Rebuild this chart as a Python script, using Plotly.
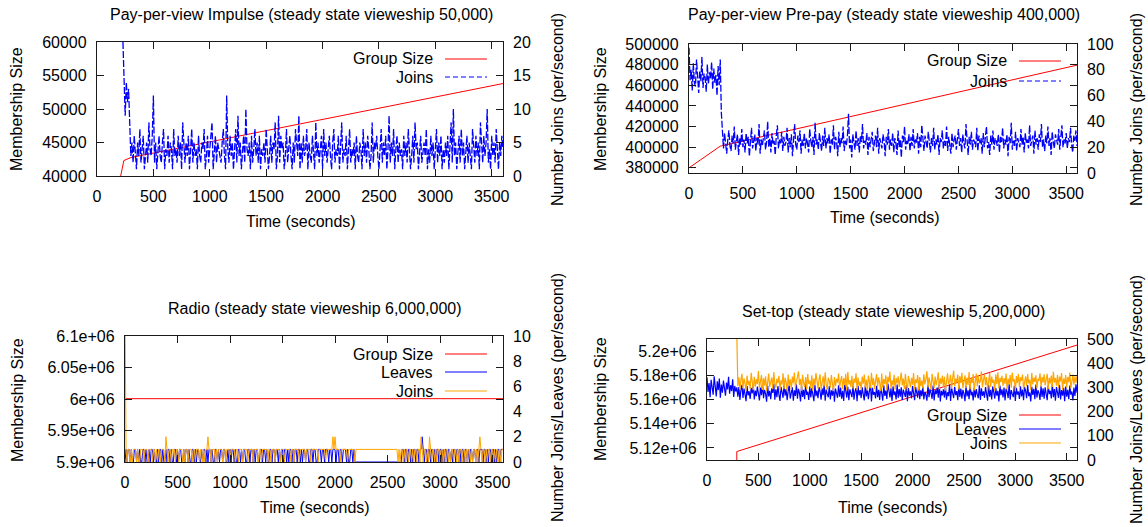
import plotly.graph_objects as go

W, H = 1148, 527
STEP = 10
FONT = "Liberation Sans, Arial, Helvetica, sans-serif"
FS = 16
RED, BLUE, ORANGE = "#ff0000", "#0000ff", "#ffa500"

# ---------------- data ----------------
x_ticks = [0, 500, 1000, 1500, 2000, 2500, 3000, 3500]

# Panel 1: Pay-per-view Impulse
imp_size_t = [0, 205, 238, 300, 3600]
imp_size = [0, 39600, 42300, 42750, 53800]
imp_joins_start = 230
imp_joins = [
    20, 13, 9, 14, 11, 13, 7,
    3, 5, 2, 6, 4, 1, 5, 3, 7, 2, 4, 6, 1, 3, 5, 2, 8, 4, 3, 6,
    12, 2, 5, 1, 4, 6, 3, 2, 5, 7, 1, 4, 3, 6, 2, 5, 4, 1, 7, 3,
    4, 2, 6, 3, 5, 1, 8, 4, 2, 5, 3, 6, 1, 4, 7, 2, 5, 3, 4, 1,
    6, 3, 2, 5, 4, 7, 1, 3, 6, 2, 4, 5, 8, 1, 3, 6, 2, 5, 4, 3,
    2, 5, 7, 3, 1, 12, 4, 2, 6, 3, 5, 1, 4, 7, 2, 9, 3, 5, 1, 4,
    6, 2, 10, 4, 3, 5, 1, 6, 2, 4, 7, 3, 5, 2, 6, 1, 4, 3, 5, 2,
    7, 4, 1, 3, 6, 2, 5, 4, 8, 1, 3, 9, 2, 6, 4, 5, 1, 3, 7, 2,
    4, 6, 3, 1, 5, 2, 7, 4, 3, 9, 1, 5, 2, 6, 3, 4, 7, 1, 5, 3,
    2, 6, 4, 1, 8, 3, 5, 2, 4, 6, 1, 7, 3, 5, 2, 4, 6, 3, 1, 5,
    7, 2, 4, 3, 6, 1, 5, 8, 2, 4, 3, 6, 1, 5, 7, 2, 4, 3, 5, 1,
    6, 3, 2, 5, 4, 1, 7, 3, 5, 2, 6, 4, 1, 3, 8, 2, 5, 4, 6, 3,
    1, 4, 7, 2, 5, 3, 6, 1, 4, 9, 2, 5, 3, 7, 1, 4, 6, 2, 5, 3,
    4, 1, 6, 3, 5, 2, 7, 4, 1, 3, 6, 2, 8, 4, 5, 1, 3, 6, 2, 4,
    5, 3, 7, 1, 4, 2, 6, 3, 5, 1, 4, 7, 2, 5, 3, 6, 1, 4, 2, 5,
    3, 6, 1, 4, 8, 2, 10, 3, 5, 1, 4, 6, 2, 7, 3, 5, 1, 4, 6, 2,
    5, 3, 1, 7, 4, 2, 6, 3, 5, 1, 8, 4, 2, 6, 3, 5, 10, 2, 4, 1,
    6, 3, 5, 2, 7, 4, 1, 5, 3, 6, 4,
]
imp_left_ticks = [40000, 45000, 50000, 55000, 60000]
imp_right_ticks = [0, 5, 10, 15, 20]

# Panel 2: Pay-per-view Pre-pay
pre_size_t = [0, 290, 3600]
pre_size = [380000, 401000, 479500]
pre_joins_start = 0
pre_joins = [
    97, 72, 80, 64, 85, 70, 67, 88, 75, 62, 79, 71, 90, 66, 77, 74, 63, 84, 69, 78,
    73, 86, 65, 81, 70, 76, 60, 83, 68, 88,
    47, 28, 19, 31, 24, 15, 26, 33, 21, 17, 29, 23, 36, 18, 25, 30, 14, 27, 22, 34,
    20, 26, 16, 31, 23, 28, 13, 25, 35, 19, 24, 30, 17, 27, 22, 38, 15, 26, 21, 29,
    33, 18, 24, 40, 20, 27, 16, 31, 22, 25, 14, 29, 37, 19, 26, 23, 32, 17, 28, 21,
    24, 35, 16, 27, 20, 30, 13, 25, 38, 22, 18, 29, 24, 33, 15, 26, 21, 31, 19, 27,
    23, 16, 34, 25, 20, 28, 14, 39, 22, 26, 18, 31, 24, 17, 29, 21, 35, 19, 27, 23,
    30, 15, 26, 22, 37, 18, 28, 24, 13, 32, 20, 27, 23, 36, 17, 25, 21, 29, 46, 19,
    26, 12, 30, 23, 18, 33, 21, 27, 16, 29, 24, 38, 19, 25, 22, 31, 14, 28, 20, 26,
    32, 17, 24, 29, 20, 35, 15, 27, 23, 19, 30, 25, 13, 28, 22, 34, 18, 26, 21, 31,
    16, 27, 23, 14, 33, 20, 26, 12, 29, 24, 36, 18, 25, 22, 30, 17, 28, 21, 34, 19,
    26, 23, 31, 15, 28, 20, 37, 22, 17, 29, 25, 19, 32, 24, 16, 27, 21, 35, 18, 26,
    22, 30, 14, 27, 24, 33, 19, 25, 21, 36, 17, 28, 23, 15, 31, 20, 26, 29, 18, 24,
    34, 21, 27, 16, 30, 23, 19, 38, 25, 14, 28, 22, 32, 18, 26, 24, 20, 35, 17, 29,
    23, 27, 15, 31, 20, 26, 36, 19, 24, 14, 29, 22, 33, 18, 27, 25, 21, 30, 16, 28,
    24, 35, 19, 26, 22, 30, 13, 28, 23, 39, 18, 25, 21, 32, 17, 27, 24, 20, 34, 22,
    28, 16, 31, 23, 26, 19, 37, 21, 25, 29, 15, 33, 22, 27, 18, 30, 24, 38, 20, 26,
    17, 29, 23, 36, 21, 27, 14, 32, 24, 19, 30, 25, 22, 34, 18, 28, 37, 20, 26, 23,
    31, 19, 27, 24, 35, 22, 16, 29, 25, 33, 21,
]
pre_left_ticks = [380000, 400000, 420000, 440000, 460000, 480000, 500000]
pre_right_ticks = [0, 20, 40, 60, 80, 100]

# Panel 3: Radio
radio_size_t = [0, 3600]
radio_size = [6000500, 6000500]
radio_start = 0
radio_joins = [
    12, 1, 0, 1, 1, 0, 1, 0, 1, 1, 1, 0, 1, 0, 0, 1, 1, 1, 0, 1,
    1, 1, 0, 1, 1, 1, 0, 1, 1, 0, 1, 0, 1, 1, 0, 1, 1, 1, 0, 2,
    1, 0, 1, 1, 0, 1, 1, 1, 0, 1, 1, 0, 1, 1, 1, 0, 1, 0, 1, 1,
    0, 1, 1, 1, 0, 1, 1, 0, 1, 1, 1, 0, 1, 1, 0, 1, 0, 1, 1, 2,
    1, 1, 0, 1, 1, 1, 0, 1, 0, 1, 1, 1, 1, 0, 1, 1, 0, 1, 1, 1,
    0, 1, 1, 1, 1, 0, 1, 1, 0, 1, 1, 1, 0, 1, 1, 1, 1, 0, 1, 1,
    1, 1, 0, 1, 1, 1, 1, 0, 1, 1, 0, 1, 1, 1, 1, 1, 0, 1, 1, 0,
    1, 1, 1, 0, 1, 1, 1, 1, 0, 1, 1, 1, 0, 1, 1, 1, 1, 1, 0, 1,
    1, 0, 1, 1, 1, 1, 0, 1, 1, 1, 1, 1, 0, 1, 1, 1, 1, 0, 1, 1,
    1, 1, 1, 1, 0, 1, 1, 1, 1, 1, 1, 0, 1, 1, 1, 1, 1, 1, 2, 1,
    2, 1, 1, 1, 1, 0, 1, 1, 1, 1, 1, 1, 0, 1, 1, 1, 1, 1, 1, 0,
    1, 1, 1, 1, 1, 1, 1, 1, 1, 1, 1, 1, 1, 1, 1, 1, 1, 1, 1, 1,
    1, 1, 1, 1, 1, 1, 1, 1, 1, 1, 1, 1, 1, 1, 1, 1, 1, 1, 1, 1,
    0, 1, 0, 1, 1, 0, 1, 0, 1, 1, 0, 1, 1, 0, 1, 0, 1, 1, 0, 1,
    1, 0, 2, 1, 0, 1, 1, 0, 1, 0, 2, 1, 0, 1, 1, 0, 1, 0, 1, 1,
    0, 1, 1, 0, 1, 0, 1, 1, 0, 1, 0, 1, 1, 0, 1, 1, 0, 1, 0, 1,
    1, 0, 1, 1, 0, 1, 0, 1, 1, 0, 1, 0, 1, 1, 0, 1, 0, 1, 2, 1,
    0, 1, 1, 0, 1, 0, 1, 1, 0, 1, 1, 0, 1, 0, 1, 1, 0, 1, 0, 1,
    1,
]
radio_leaves = [
    0, 1, 0, 1, 1, 0, 1, 0, 0, 1, 1, 0, 1, 0, 1, 0, 0, 1, 1, 0,
    1, 0, 0, 1, 0, 1, 1, 0, 1, 0, 0, 1, 0, 1, 1, 0, 1, 0, 0, 1,
    0, 1, 1, 0, 1, 0, 0, 1, 1, 0, 1, 0, 1, 1, 0, 0, 1, 0, 1, 1,
    0, 1, 0, 0, 1, 1, 0, 1, 0, 1, 1, 0, 0, 1, 0, 1, 1, 0, 1, 0,
    1, 1, 0, 1, 0, 0, 1, 1, 0, 1, 0, 1, 1, 0, 1, 1, 0, 0, 1, 0,
    1, 0, 1, 1, 0, 1, 0, 0, 1, 1, 0, 1, 0, 1, 1, 0, 0, 1, 1, 0,
    1, 1, 0, 1, 0, 1, 1, 0, 0, 1, 1, 0, 1, 1, 0, 1, 0, 0, 1, 1,
    0, 1, 1, 0, 1, 1, 0, 1, 0, 1, 1, 0, 1, 1, 0, 1, 0, 1, 1, 0,
    1, 0, 1, 1, 0, 1, 1, 0, 1, 0, 1, 1, 0, 1, 1, 0, 0, 1, 1, 0,
    1, 1, 0, 0, 1, 1, 1, 0, 1, 1, 0, 1, 1, 1, 0, 1, 1, 0, 1, 1,
    1, 0, 1, 1, 0, 1, 1, 0, 1, 1, 1, 0, 1, 0, 0, 1, 1, 0, 1, 0,
    0, 0, 0, 0, 0, 0, 0, 0, 0, 0, 0, 0, 0, 0, 0, 0, 0, 0, 0, 0,
    0, 0, 0, 0, 0, 0, 0, 0, 0, 0, 0, 0, 0, 0, 0, 0, 0, 0, 0, 0,
    0, 0, 0, 0, 1, 1, 0, 1, 1, 0, 1, 1, 0, 1, 0, 1, 1, 0, 1, 1,
    0, 1, 1, 2, 1, 0, 1, 1, 0, 1, 1, 0, 1, 1, 0, 1, 0, 1, 1, 0,
    1, 1, 0, 1, 0, 1, 1, 0, 1, 1, 0, 1, 0, 1, 1, 0, 1, 1, 0, 1,
    0, 1, 1, 0, 1, 1, 0, 1, 0, 1, 1, 0, 1, 1, 0, 1, 1, 0, 1, 1,
    1, 0, 1, 1, 0, 1, 0, 1, 1, 0, 1, 1, 0, 1, 0, 1, 1, 0, 1, 1,
    1,
]
radio_left_ticks = [5.9e6, 5.95e6, 6.0e6, 6.05e6, 6.1e6]
radio_left_labels = ["5.9e+06", "5.95e+06", "6e+06", "6.05e+06", "6.1e+06"]
radio_right_ticks = [0, 2, 4, 6, 8, 10]

# Panel 4: Set-top
stb_size_t = [290, 290, 3600]
stb_size = [5000000, 5117000, 5205000]
stb_leaves_start = 0
stb_leaves = [
    342, 281, 318, 259, 331, 296, 270, 346, 304, 263, 325, 289, 337, 257, 312, 278, 328, 301, 266, 320,
    292, 344, 274, 309, 285, 333, 261, 306, 283, 300,
    262, 301, 248, 289, 310, 256, 295, 271, 243, 306, 267, 284, 252, 298, 275, 312, 250, 287, 264, 303,
    281, 246, 299, 268, 314, 255, 290, 273, 241, 308, 263, 286, 251, 296, 277, 315, 249, 292, 260, 305,
    270, 244, 302, 283, 257, 311, 266, 293, 247, 285, 309, 254, 279, 300, 245, 288, 265, 313, 253, 294,
    276, 242, 307, 261, 290, 251, 316, 269, 282, 248, 304, 258, 297, 272, 243, 310, 264, 287, 255, 301,
    283, 249, 296, 268, 312, 245, 291, 274, 259, 306, 250, 288, 266, 302, 241, 295, 278, 257, 309, 262,
    299, 253, 286, 244, 314, 270, 258, 303, 247, 292, 276, 260, 311, 249, 284, 297, 243, 305, 267, 289,
    256, 300, 272, 246, 308, 263, 294, 251, 285, 313, 242, 298, 269, 281, 254, 307, 260, 290, 248, 302,
    275, 245, 309, 265, 287, 252, 316, 271, 259, 296, 244, 304, 268, 283, 250, 312, 257, 293, 262, 300,
    248, 291, 277, 261, 310, 243, 297, 266, 284, 255, 306, 270, 247, 301, 279, 258, 314, 251, 288, 264,
    303, 250, 282, 269, 245, 311, 260, 294, 276, 253, 308, 246, 289, 272, 299, 257, 315, 242, 286, 267,
    292, 258, 305, 249, 280, 264, 312, 244, 297, 271, 256, 302, 268, 285, 247, 310, 261, 295, 253, 290,
    274, 243, 306, 263, 288, 251, 313, 267, 282, 246, 300, 259, 293, 270, 255, 309, 248, 296, 265, 284,
    257, 301, 272, 245, 311, 262, 290, 250, 304, 277, 254, 297, 266, 286, 242, 308, 268, 292, 259, 299,
    246, 295, 281, 256, 314, 249, 289, 273, 260, 307, 244, 298, 270, 283, 252, 305, 263, 291, 247, 302,
    285, 255, 310, 264, 279, 242, 303, 269, 294, 251, 312, 258, 288, 276, 248, 306, 261, 296, 253, 300,
    268, 247, 309, 272, 286, 254, 315, 260, 293, 245, 301, 275, 257, 311, 250, 289, 266, 298, 243, 304,
    262, 290, 251, 308, 270, 283, 246, 299, 265, 313, 278,
]
stb_joins_start = 290
stb_joins = [
    520,
    305, 342, 291, 331, 356, 298, 337, 316, 284, 349, 310, 327, 295, 360, 320, 288, 344, 303, 334, 313,
    368, 296, 325, 351, 289, 339, 307, 346, 285, 330, 357, 301, 322, 341, 293, 363, 315, 299, 336, 318,
    348, 287, 329, 312, 358, 294, 340, 321, 283, 353, 306, 333, 290, 345, 317, 361, 300, 326, 338, 366,
    309, 335, 286, 352, 319, 302, 343, 292, 355, 314, 328, 297, 350, 285, 337, 308, 359, 323, 296, 332,
    354, 291, 318, 346, 304, 362, 311, 289, 340, 327, 299, 351, 316, 284, 343, 305, 335, 320, 357, 298,
    326, 347, 293, 339, 309, 356, 287, 364, 312, 330, 301, 348, 295, 336, 319, 358, 288, 341, 306, 324,
    290, 345, 315, 353, 300, 332, 286, 349, 322, 297, 360, 310, 338, 294, 327, 355, 303, 342, 318, 284,
    357, 299, 334, 313, 350, 288, 344, 321, 365, 296, 329, 307, 352, 290, 339, 317, 346, 302, 331, 361,
    308, 337, 294, 355, 316, 285, 348, 324, 300, 340, 311, 359, 292, 333, 319, 351, 287, 343, 305, 328,
    296, 354, 312, 335, 367, 301, 342, 318, 289, 356, 323, 298, 345, 309, 331, 362, 293, 338, 315, 349,
    303, 344, 286, 330, 358, 314, 325, 352, 295, 339, 369, 306, 336, 320, 353, 291, 347, 317, 360, 297,
    321, 350, 298, 341, 310, 363, 292, 337, 318, 355, 287, 334, 357, 304, 346, 316, 328, 366, 300, 332,
    352, 309, 343, 289, 326, 359, 302, 345, 319, 331, 285, 354, 313, 362, 297, 340, 322, 348, 306, 338,
    315, 357, 292, 336, 311, 351, 299, 361, 324, 333, 284, 347, 318, 356, 301, 342, 327, 353, 294, 330,
    346, 305, 355, 317, 331, 290, 360, 312, 341, 323, 350, 296, 335, 328, 358, 303, 344, 320, 354, 308,
    327, 356, 293, 340, 316, 349, 302, 364, 320, 338, 307, 352, 298, 345, 325, 359, 288, 337, 314, 351,
    300, 343, 322, 361, 296, 335, 353, 311, 346, 319, 348,
]
stb_left_ticks = [5.12e6, 5.14e6, 5.16e6, 5.18e6, 5.2e6]
stb_left_labels = ["5.12e+06", "5.14e+06", "5.16e+06", "5.18e+06", "5.2e+06"]
stb_right_ticks = [0, 100, 200, 300, 400, 500]


def times(t0, n):
    return [t0 + STEP * i for i in range(n)]


def fx(px):
    return px / W


def fy(py):
    return 1 - py / H


fig = go.Figure()
JOIN_DASH = "7px,2px"


def line(x, y, xa, ya, color, dash="solid", width=1):
    fig.add_trace(go.Scatter(x=x, y=y, xaxis=xa, yaxis=ya, mode="lines",
                             line=dict(color=color, width=width, dash=dash),
                             hoverinfo="skip", showlegend=False))


# panel 1
line(imp_size_t, imp_size, "x", "y", RED)
line(times(imp_joins_start, len(imp_joins)), imp_joins, "x", "y2", BLUE, JOIN_DASH, 1.3)
# panel 2
line(pre_size_t, pre_size, "x2", "y3", RED)
line(times(pre_joins_start, len(pre_joins)), pre_joins, "x2", "y4", BLUE, JOIN_DASH, 1.3)
# panel 3
line(radio_size_t, radio_size, "x3", "y5", RED)
line(times(radio_start, len(radio_leaves)), radio_leaves, "x3", "y6", BLUE)
line(times(radio_start, len(radio_joins)), radio_joins, "x3", "y6", ORANGE)
# panel 4
line(stb_size_t, stb_size, "x4", "y7", RED)
line(times(stb_leaves_start, len(stb_leaves)), stb_leaves, "x4", "y8", BLUE, "solid", 1.2)
line(times(stb_joins_start, len(stb_joins)), stb_joins, "x4", "y8", ORANGE, "solid", 1.2)

tickfont = dict(family=FONT, size=FS, color="#000000")
AXC = "#1a1a1a"


def xaxis(l, r, anchor):
    return dict(domain=[fx(l), fx(r)], anchor=anchor, range=[0, 3600], automargin=False,
                tickvals=x_ticks, tickmode="array", ticks="inside", ticklen=7,
                tickcolor=AXC, showline=True, linecolor=AXC, linewidth=1.3,
                mirror="ticks", showgrid=False, zeroline=False, tickfont=tickfont,
                ticklabelstandoff=6)


def yleft(top, bot, anchor, rng, tv, tt=None, fmt="d"):
    d = dict(domain=[fy(bot), fy(top)], anchor=anchor, range=rng, tickvals=tv,
             automargin=False,
             tickmode="array", ticks="inside", ticklen=7, tickcolor=AXC,
             showline=True, linecolor=AXC, linewidth=1.3, mirror="ticks",
             showgrid=False, zeroline=False, tickfont=tickfont, ticklabelstandoff=6)
    if tt is not None:
        d["ticktext"] = tt
    else:
        d["tickformat"] = fmt
    return d


def yright(over, anchor, rng, tv):
    return dict(overlaying=over, side="right", anchor=anchor, range=rng,
                automargin=False,
                tickvals=tv, tickmode="array", ticks="", showline=False,
                showgrid=False, zeroline=False, tickfont=tickfont,
                ticklabelstandoff=9, tickformat="d")


P1 = dict(l=97, r=503, t=42, b=176)
P2 = dict(l=689, r=1077, t=44, b=173)
P3 = dict(l=125, r=503, t=336, b=462)
P4 = dict(l=707, r=1077, t=339, b=460)

fig.update_layout(
    width=W, height=H, autosize=False,
    margin=dict(l=0, r=0, t=0, b=0, pad=0),
    paper_bgcolor="white", plot_bgcolor="white",
    font=dict(family=FONT, size=FS, color="#000000"),
    xaxis=xaxis(P1["l"], P1["r"], "y"),
    yaxis=yleft(P1["t"], P1["b"], "x", [40000, 60000], imp_left_ticks),
    yaxis2=yright("y", "x", [0, 20], imp_right_ticks),
    xaxis2=xaxis(P2["l"], P2["r"], "y3"),
    yaxis3=yleft(P2["t"], P2["b"], "x2", [375000, 500000], pre_left_ticks),
    yaxis4=yright("y3", "x2", [0, 100], pre_right_ticks),
    xaxis3=xaxis(P3["l"], P3["r"], "y5"),
    yaxis5=yleft(P3["t"], P3["b"], "x3", [5.9e6, 6.1e6], radio_left_ticks, radio_left_labels),
    yaxis6=yright("y5", "x3", [0, 10], radio_right_ticks),
    xaxis4=xaxis(P4["l"], P4["r"], "y7"),
    yaxis7=yleft(P4["t"], P4["b"], "x4", [5.11e6, 5.21e6], stb_left_ticks, stb_left_labels),
    yaxis8=yright("y7", "x4", [0, 500], stb_right_ticks),
)

ann = []


def text(x, y, s, angle=0, xanchor="center"):
    ann.append(dict(x=fx(x), y=fy(y), xref="paper", yref="paper", text=s,
                    showarrow=False, textangle=angle, xanchor=xanchor,
                    yanchor="middle", font=dict(family=FONT, size=FS, color="#000000")))


# titles
text(301, 14, "Pay-per-view Impulse (steady state vieweship 50,000)")
text(884, 15, "Pay-per-view Pre-pay (steady state vieweship 400,000)")
text(315, 308, "Radio (steady state vieweship 6,000,000)")
text(893, 311, "Set-top (steady state vieweship 5,200,000)")
# x titles
text(301, 221, "Time (seconds)")
text(885, 218, "Time (seconds)")
text(315, 507, "Time (seconds)")
text(893, 507, "Time (seconds)")
# left y titles
text(17, 109, "Membership Size", -90)
text(601, 109, "Membership Size", -90)
text(17, 400, "Membership Size", -90)
text(600, 399, "Membership Size", -90)
# right y titles
text(557, 110, "Number Joins (per/second)", -90)
text(1136, 110, "Number Joins (per/second)", -90)
text(557, 398, "Number Joins/Leaves (per/second)", -90)
text(1136, 400, "Number Joins/Leaves (per/second)", -90)

shapes = []


def key(right, rows):
    for label, color, dash, y in rows:
        text(right - 68, y, label, 0, "right")
        shapes.append(dict(type="line", xref="paper", yref="paper",
                           x0=fx(right - 58), x1=fx(right - 16), y0=fy(y), y1=fy(y),
                           line=dict(color=color, width=1, dash=dash)))


key(P1["r"], [("Group Size", RED, "solid", 59), ("Joins", BLUE, "5px,3px", 77)])
key(P2["r"], [("Group Size", RED, "solid", 61), ("Joins", BLUE, "5px,3px", 81)])
key(P3["r"], [("Group Size", RED, "solid", 354), ("Leaves", BLUE, "solid", 372),
              ("Joins", ORANGE, "solid", 391)])
key(P4["r"], [("Group Size", RED, "solid", 415), ("Leaves", BLUE, "solid", 429),
              ("Joins", ORANGE, "solid", 443)])

fig.update_layout(annotations=ann, shapes=shapes)
fig.write_html("out.html",
               config={"displayModeBar": False},
               post_script="document.body.style.margin='0px';"
                           "document.body.style.padding='0px';")
